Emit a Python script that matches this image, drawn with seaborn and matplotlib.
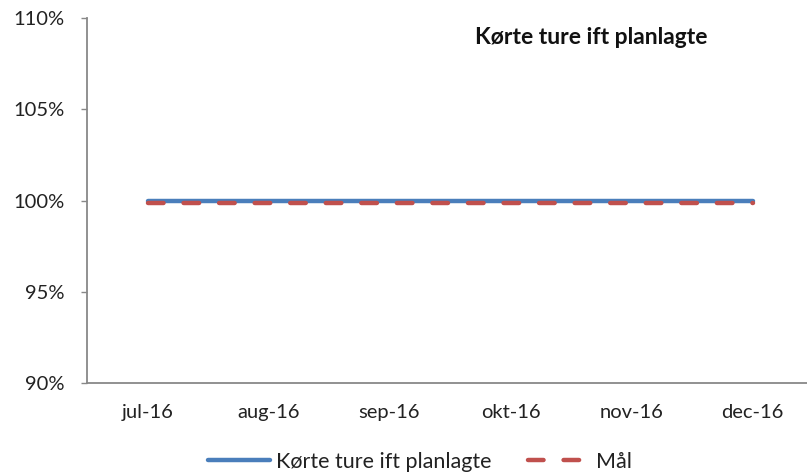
import matplotlib
matplotlib.use("Agg")
import matplotlib.pyplot as plt
import seaborn as sns
import pandas as pd
from matplotlib.ticker import FuncFormatter, FixedLocator

months = ["jul-16", "aug-16", "sep-16", "okt-16", "nov-16", "dec-16"]
korte = [1.0, 1.0, 1.0, 1.0, 1.0, 1.0]
maal = [0.9985, 0.9985, 0.9985, 0.9985, 0.9985, 0.9985]
title = "Kørte ture ift planlagte"

sns.set_style("white")
plt.rcParams['font.family'] = ['Lato', 'DejaVu Sans']

df = pd.DataFrame({"x": list(range(len(months))) * 2,
                   "value": korte + maal,
                   "serie": ["Kørte ture ift planlagte"] * len(months) + ["Mål"] * len(months)})

fig = plt.figure(figsize=(8.07, 4.76), dpi=100)
W, H = 807, 476
ax = fig.add_axes([87 / W, 1 - 383 / H, (813 - 87) / W, (383 - 18) / H])

FS = 14.5

sns.lineplot(data=df[df.serie == "Kørte ture ift planlagte"], x="x", y="value", ax=ax,
             color="#4a7ebb", linewidth=3.2, solid_capstyle="round", label="Kørte ture ift planlagte")
sns.lineplot(data=df[df.serie == "Mål"], x="x", y="value", ax=ax,
             color="#c0504d", linewidth=3.2, label="Mål")
ax.lines[1].set_dashes([3.5, 4.5])
ax.lines[1].set_dash_capstyle("round")

ax.set_xlim(-0.5, len(months) - 0.5)
ax.set_ylim(0.90, 1.10)
ax.set_yticks([0.90, 0.95, 1.00, 1.05, 1.10])
ax.yaxis.set_major_formatter(FuncFormatter(lambda v, p: f"{v*100:.0f}%"))
ax.set_xticks(range(len(months)))
ax.set_xticklabels(months)
ax.xaxis.set_minor_locator(FixedLocator([i - 0.5 for i in range(len(months) + 1)]))
ax.tick_params(axis="x", which="major", length=0, pad=15, labelsize=FS, colors="#222222")
ax.tick_params(axis="x", which="minor", length=4, width=1, color="#888888", direction="out")
ax.tick_params(axis="y", length=4, width=1, color="#888888", direction="out", pad=12,
               labelsize=FS, labelcolor="#222222", left=True)
ax.set_xlabel("")
ax.set_ylabel("")
for s in ["top", "right"]:
    ax.spines[s].set_visible(False)
for s in ["left", "bottom"]:
    ax.spines[s].set_color("#888888")
    ax.spines[s].set_linewidth(1.3)

ax.text(591 / W, 1 - 37 / H, title, transform=fig.transFigure, ha="center", va="center",
        fontsize=16.5, fontweight="bold", color="#111111")

leg = ax.legend(loc="center", bbox_to_anchor=(0.52, 1 - 462 / H), bbox_transform=fig.transFigure,
                ncol=2, frameon=False, fontsize=15.5, handlelength=2.9, columnspacing=1.7,
                handletextpad=0.25)
for t in leg.get_texts():
    t.set_color("#222222")
leg.get_lines()[1].set_dashes([3.5, 4.5])
leg.get_lines()[1].set_dash_capstyle("round")

fig.savefig("out.png", dpi=100)
